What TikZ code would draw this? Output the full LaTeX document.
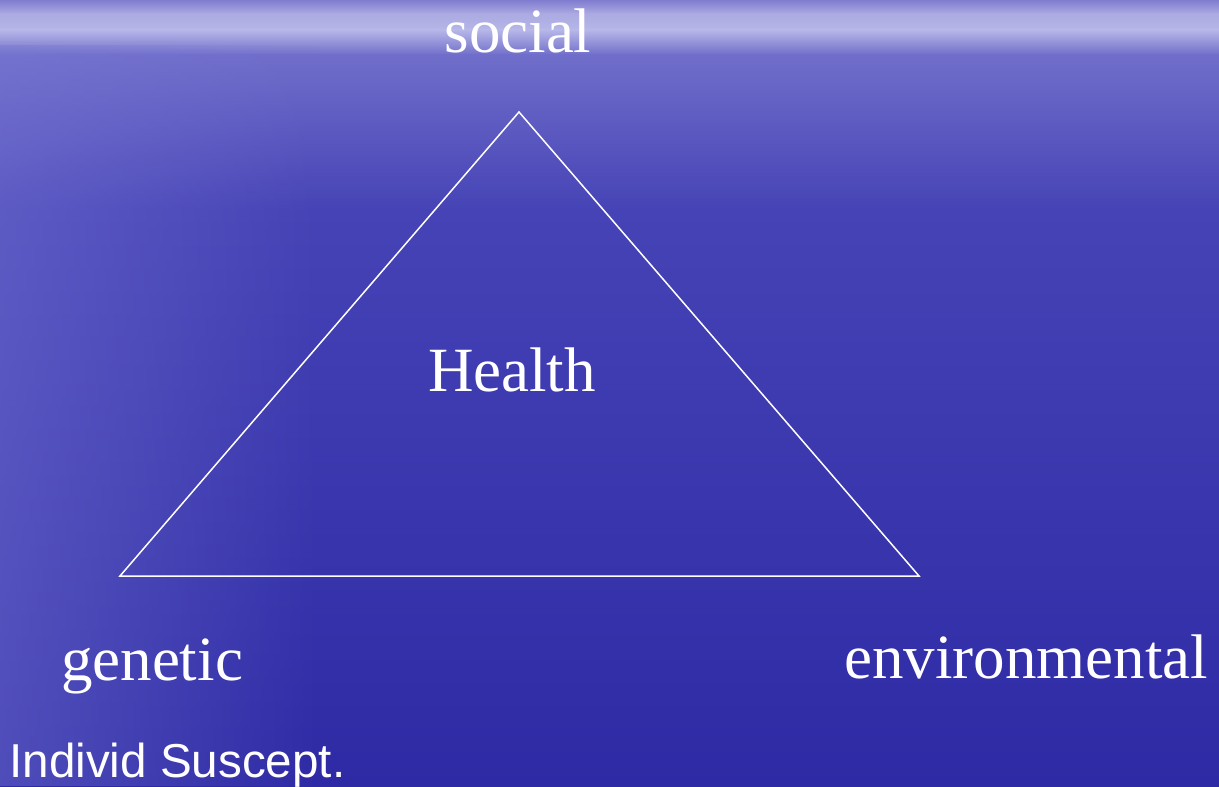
\documentclass[tikz,border=0pt]{standalone}
\usepackage{fontspec}
\setmainfont{Liberation Serif}
\newfontfamily\labsans{Liberation Sans}
\usetikzlibrary{fadings}
\definecolor{bgA}{RGB}{128,124,208}
\definecolor{bgB}{RGB}{172,170,226}
\definecolor{bgC}{RGB}{182,182,232}
\definecolor{bgD}{RGB}{112,110,202}
\definecolor{bgE}{RGB}{70,67,182}
\definecolor{bgF}{RGB}{46,42,165}
\definecolor{bgLeft}{RGB}{120,120,212}
\tikzset{
  lbl/.style={text=white, inner sep=0pt, anchor=base, font=\fontsize{31.5pt}{36pt}\selectfont},
  sanslbl/.style={text=white, inner sep=0pt, anchor=base west, font=\labsans\fontsize{23.8pt}{28pt}\selectfont},
  edge/.style={draw=white, line width=0.75pt, line join=miter}
}
\begin{document}
\begin{tikzpicture}[x=0.5pt,y=-0.5pt]
\useasboundingbox (0,0) rectangle (1219,786);
% background
\shade[top color=bgA, bottom color=bgB] (0,0) rectangle (1219,14);
\shade[top color=bgB, bottom color=bgC] (0,14) rectangle (1219,30);
\shade[top color=bgC, bottom color=bgD] (0,30) rectangle (1219,55);
\shade[top color=bgD, bottom color=bgE] (0,55) rectangle (1219,210);
\shade[top color=bgE, bottom color=bgF] (0,210) rectangle (1219,786);
\fill[bgLeft, path fading=east, fill opacity=0.45] (0,45) rectangle (320,786);
% triangle
\coordinate (apex) at (519,112);
\coordinate (bl) at (120,576);
\coordinate (br) at (919,576);
\draw[edge] (apex) -- (bl) -- (br) -- cycle;
% labels
\node[lbl] (social) at (518,53) {social};
\node[lbl] (health) at (512,391) {Health};
\node[lbl] (genetic) at (152,680) {genetic};
\node[lbl] (environmental) at (1026,678) {environmental};
\node[sanslbl] (indiv) at (9,777) {Individ Suscept.};
\end{tikzpicture}
\end{document}
